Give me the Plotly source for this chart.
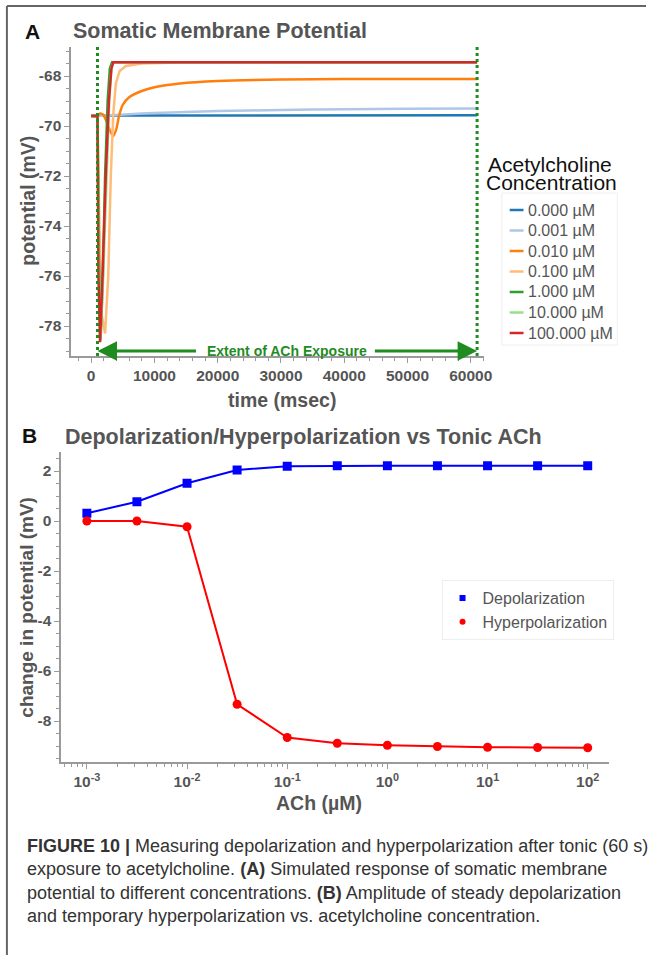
import plotly.graph_objects as go

W, H = 654, 955

# ---------------- Panel A data ----------------
conc_labels = ["0.000 µM", "0.001 µM", "0.010 µM", "0.100 µM", "1.000 µM", "10.000 µM", "100.000 µM"]
conc_colors = ["#1f77b4", "#aec7e8", "#ff7f0e", "#ffbb78", "#2ca02c", "#98df8a", "#d62728"]

t_0000 = [0, 1000, 30000, 61000]
v_0000 = [-69.58, -69.58, -69.57, -69.57]
t_0001 = [0, 1000, 3000, 6000, 10000, 15000, 20000, 30000, 40000, 50000, 61000]
v_0001 = [-69.6, -69.6, -69.57, -69.53, -69.48, -69.44, -69.4, -69.36, -69.33, -69.31, -69.3]
t_0010 = [0, 1000, 1400, 1900, 2400, 3000, 3500, 4000, 4400, 5000, 6000, 8000, 10000, 14000, 20000, 30000, 40000, 61000]
v_0010 = [-69.6, -69.6, -69.5, -69.55, -69.8, -70.2, -70.4, -70.1, -69.6, -69.15, -68.85, -68.6, -68.45, -68.3, -68.2, -68.14, -68.12, -68.12]
t_0100 = [0, 1000, 1300, 1700, 2200, 2700, 3100, 3500, 3900, 4500, 5500, 8000, 15000, 61000]
v_0100 = [-69.6, -69.6, -74.0, -77.6, -78.3, -76.0, -72.0, -69.5, -68.3, -67.8, -67.6, -67.5, -67.45, -67.45]
t_1000 = [0, 1000, 1200, 1500, 1850, 2200, 2600, 2950, 3300, 61000]
v_1000 = [-69.6, -69.6, -75.0, -78.5, -76.0, -72.0, -69.0, -67.7, -67.45, -67.45]
t_10000 = [0, 1000, 1200, 1450, 1900, 2400, 2850, 3200, 3500, 61000]
v_10000 = [-69.6, -69.6, -75.5, -78.6, -76.0, -72.0, -69.0, -67.7, -67.45, -67.45]
t_100000 = [0, 1000, 1150, 1400, 1800, 2300, 2800, 3200, 3500, 61000]
v_100000 = [-69.6, -69.6, -76.0, -78.65, -76.0, -72.0, -69.0, -67.7, -67.45, -67.45]

series_t = [t_0000, t_0001, t_0010, t_0100, t_1000, t_10000, t_100000]
series_v = [v_0000, v_0001, v_0010, v_0100, v_1000, v_10000, v_100000]
series_shape = ["linear", "spline", "spline", "linear", "linear", "linear", "linear"]

exposure = [1000, 61000]          # ms, start / end of ACh exposure
a_xticks = [0, 10000, 20000, 30000, 40000, 50000, 60000]
a_yticks = [-78, -76, -74, -72, -70, -68]

# ---------------- Panel B data ----------------
ach_um = [0.001, 0.00316, 0.01, 0.0316, 0.1, 0.316, 1, 3.16, 10, 31.6, 100]
depolarization = [0.31, 0.77, 1.51, 2.04, 2.19, 2.21, 2.21, 2.21, 2.21, 2.21, 2.21]
hyperpolarization = [0.0, 0.0, -0.23, -7.33, -8.66, -8.89, -8.97, -9.02, -9.05, -9.06, -9.07]
b_xtickvals = [0.001, 0.01, 0.1, 1, 10, 100]
b_xticktext = ["10<sup>-3</sup>", "10<sup>-2</sup>", "10<sup>-1</sup>", "10<sup>0</sup>", "10<sup>1</sup>", "10<sup>2</sup>"]
b_yticks = [-8, -6, -4, -2, 0, 2]

# ---------------- helpers ----------------
def px(x):
    return x / W

def py(y):
    return 1 - y / H

FONT = "Liberation Sans, Arial, sans-serif"
GRAY = "#555555"
AXC = "#9a9a9a"
GREEN = "#1e8c1e"

fig = go.Figure()

for lab, col, tt, vv, sh in zip(conc_labels, conc_colors, series_t, series_v, series_shape):
    fig.add_trace(go.Scatter(x=tt, y=vv, mode="lines", name=lab, showlegend=False,
                             line=dict(color=col, width=2.5, shape=sh, smoothing=0.6),
                             xaxis="x", yaxis="y"))

fig.add_trace(go.Scatter(x=ach_um, y=depolarization, mode="lines+markers", name="Depolarization",
                         line=dict(color="#0000ff", width=2), marker=dict(symbol="square", size=9, color="#0000ff"),
                         xaxis="x2", yaxis="y2", showlegend=False))
fig.add_trace(go.Scatter(x=ach_um, y=hyperpolarization, mode="lines+markers", name="Hyperpolarization",
                         line=dict(color="#ff0000", width=2), marker=dict(symbol="circle", size=9, color="#ff0000"),
                         xaxis="x2", yaxis="y2", showlegend=False))
# legend-only entries (marker only, as in the reference legend)
fig.add_trace(go.Scatter(x=[None], y=[None], mode="markers", name="Depolarization",
                         marker=dict(symbol="square", size=6, color="#0000ff"),
                         xaxis="x2", yaxis="y2", legend="legend2"))
fig.add_trace(go.Scatter(x=[None], y=[None], mode="markers", name="Hyperpolarization",
                         marker=dict(symbol="circle", size=6, color="#ff0000"),
                         xaxis="x2", yaxis="y2", legend="legend2"))

tickfont = dict(family=FONT, size=15.5, color=GRAY, weight="bold")
common = dict(showgrid=False, zeroline=False, showline=True, linecolor=AXC, linewidth=1.5,
              ticks="outside", ticklen=5, tickcolor=AXC, tickwidth=1.2, tickfont=tickfont)

fig.update_layout(
    width=W, height=H, margin=dict(l=0, r=0, t=0, b=0),
    paper_bgcolor="white", plot_bgcolor="white",
    font=dict(family=FONT),
    xaxis=dict(domain=[px(72), px(490)], anchor="y", range=[-3170, 62090],
               tickmode="array", tickvals=a_xticks, ticktext=[str(v) for v in a_xticks],
               minor=dict(dtick=2000, tick0=0, ticks="outside", ticklen=3, tickcolor=AXC),
               **common),
    yaxis=dict(domain=[py(356), py(47)], anchor="x", range=[-79.2, -66.84],
               tickmode="array", tickvals=a_yticks, ticktext=[str(v) for v in a_yticks],
               minor=dict(dtick=0.5, tick0=0, ticks="outside", ticklen=3, tickcolor=AXC),
               **common),
    xaxis2=dict(domain=[px(62), px(617)], anchor="y2", type="log", range=[-3.256, 2.217],
                tickmode="array", tickvals=b_xtickvals, ticktext=b_xticktext,
                minor=dict(dtick="D1", ticks="outside", ticklen=3, tickcolor=AXC),
                **common),
    yaxis2=dict(domain=[py(762), py(452)], anchor="x2", range=[-9.64, 2.76],
                tickmode="array", tickvals=b_yticks, ticktext=[str(v) for v in b_yticks],
                minor=dict(dtick=0.5, tick0=0, ticks="outside", ticklen=3, tickcolor=AXC),
                **common),
    legend2=dict(x=px(447), y=py(580), xanchor="left", yanchor="top", bgcolor="white",
                 bordercolor="#eeeeee", borderwidth=1, tracegroupgap=0, itemwidth=30,
                 font=dict(family=FONT, size=16, color=GRAY)),
)

# exposure markers
for xe in exposure:
    fig.add_shape(type="line", xref="x", yref="y domain", x0=xe, x1=xe, y0=0, y1=1,
                  line=dict(color=GREEN, width=3, dash="dot"))

# figure frame (top and left)
fig.add_shape(type="line", xref="paper", yref="paper", x0=px(7), x1=1, y0=py(6), y1=py(6),
              line=dict(color="#666666", width=2))
fig.add_shape(type="line", xref="paper", yref="paper", x0=px(7), x1=px(7), y0=py(6), y1=0,
              line=dict(color="#666666", width=2))

def ann(text, x, y, size, color=GRAY, bold=True, xanchor="center", yanchor="middle", angle=0, family=FONT, align="center"):
    fig.add_annotation(text=text, x=px(x), y=py(y), xref="paper", yref="paper", showarrow=False,
                       xanchor=xanchor, yanchor=yanchor, textangle=angle, align=align,
                       font=dict(family=family, size=size, color=color, weight="bold" if bold else "normal"))

# panel A legend (compact, like the reference)
fig.add_shape(type="rect", xref="paper", yref="paper", x0=px(508), x1=px(625), y0=py(345), y1=py(193),
              line=dict(color="#eeeeee", width=1), fillcolor="rgba(255,255,255,0)")
for i, (lab, col) in enumerate(zip(conc_labels, conc_colors)):
    yy = 210 + 20.5 * i
    fig.add_shape(type="line", xref="paper", yref="paper", x0=px(516), x1=px(530), y0=py(yy), y1=py(yy),
                  line=dict(color=col, width=2.5))
    ann(lab, 533, yy, 16, bold=False, xanchor="left")

ann("A", 33, 32, 21, color="#111111")
ann("Somatic Membrane Potential", 72, 31, 21.5, xanchor="left")
ann("potential (mV)", 28, 201, 19.5, angle=-90)
ann("time (msec)", 285, 400, 19.5)
ann("Acetylcholine", 557, 164, 21, color="#111111", bold=False)
ann("Concentration", 558, 182, 21, color="#111111", bold=False)

ann("B", 30, 435, 21, color="#111111")
ann("Depolarization/Hyperpolarization vs Tonic ACh", 64, 437, 21.5, xanchor="left")
ann("change in potential (mV)", 26, 607, 19, angle=-90)
ann("ACh (µM)", 323, 803, 19.5)

# exposure arrows
arrow_y = -79.0
for tip, tail in [(exposure[0], 16800), (exposure[1], 44600)]:
    fig.add_annotation(x=tip, y=arrow_y, ax=tail, ay=arrow_y, xref="x", yref="y", axref="x", ayref="y",
                       text="", showarrow=True, arrowhead=2, arrowsize=1.3, arrowwidth=3, arrowcolor=GREEN)
fig.add_annotation(x=(exposure[0] + exposure[1]) / 2, y=arrow_y, xref="x", yref="y", showarrow=False,
                   text="Extent of ACh Exposure", font=dict(family=FONT, size=14, color=GREEN, weight="bold"))

caption = ("<b>FIGURE 10 |</b> Measuring depolarization and hyperpolarization after tonic (60 s)<br>"
           "exposure to acetylcholine. <b>(A)</b> Simulated response of somatic membrane<br>"
           "potential to different concentrations. <b>(B)</b> Amplitude of steady depolarization<br>"
           "and temporary hyperpolarization vs. acetylcholine concentration.")
ann(caption, 25, 834, 18, color="#333333", bold=False, xanchor="left", yanchor="top",
    family="Liberation Sans, Arial, sans-serif", align="left")

fig.write_html("out.html")
